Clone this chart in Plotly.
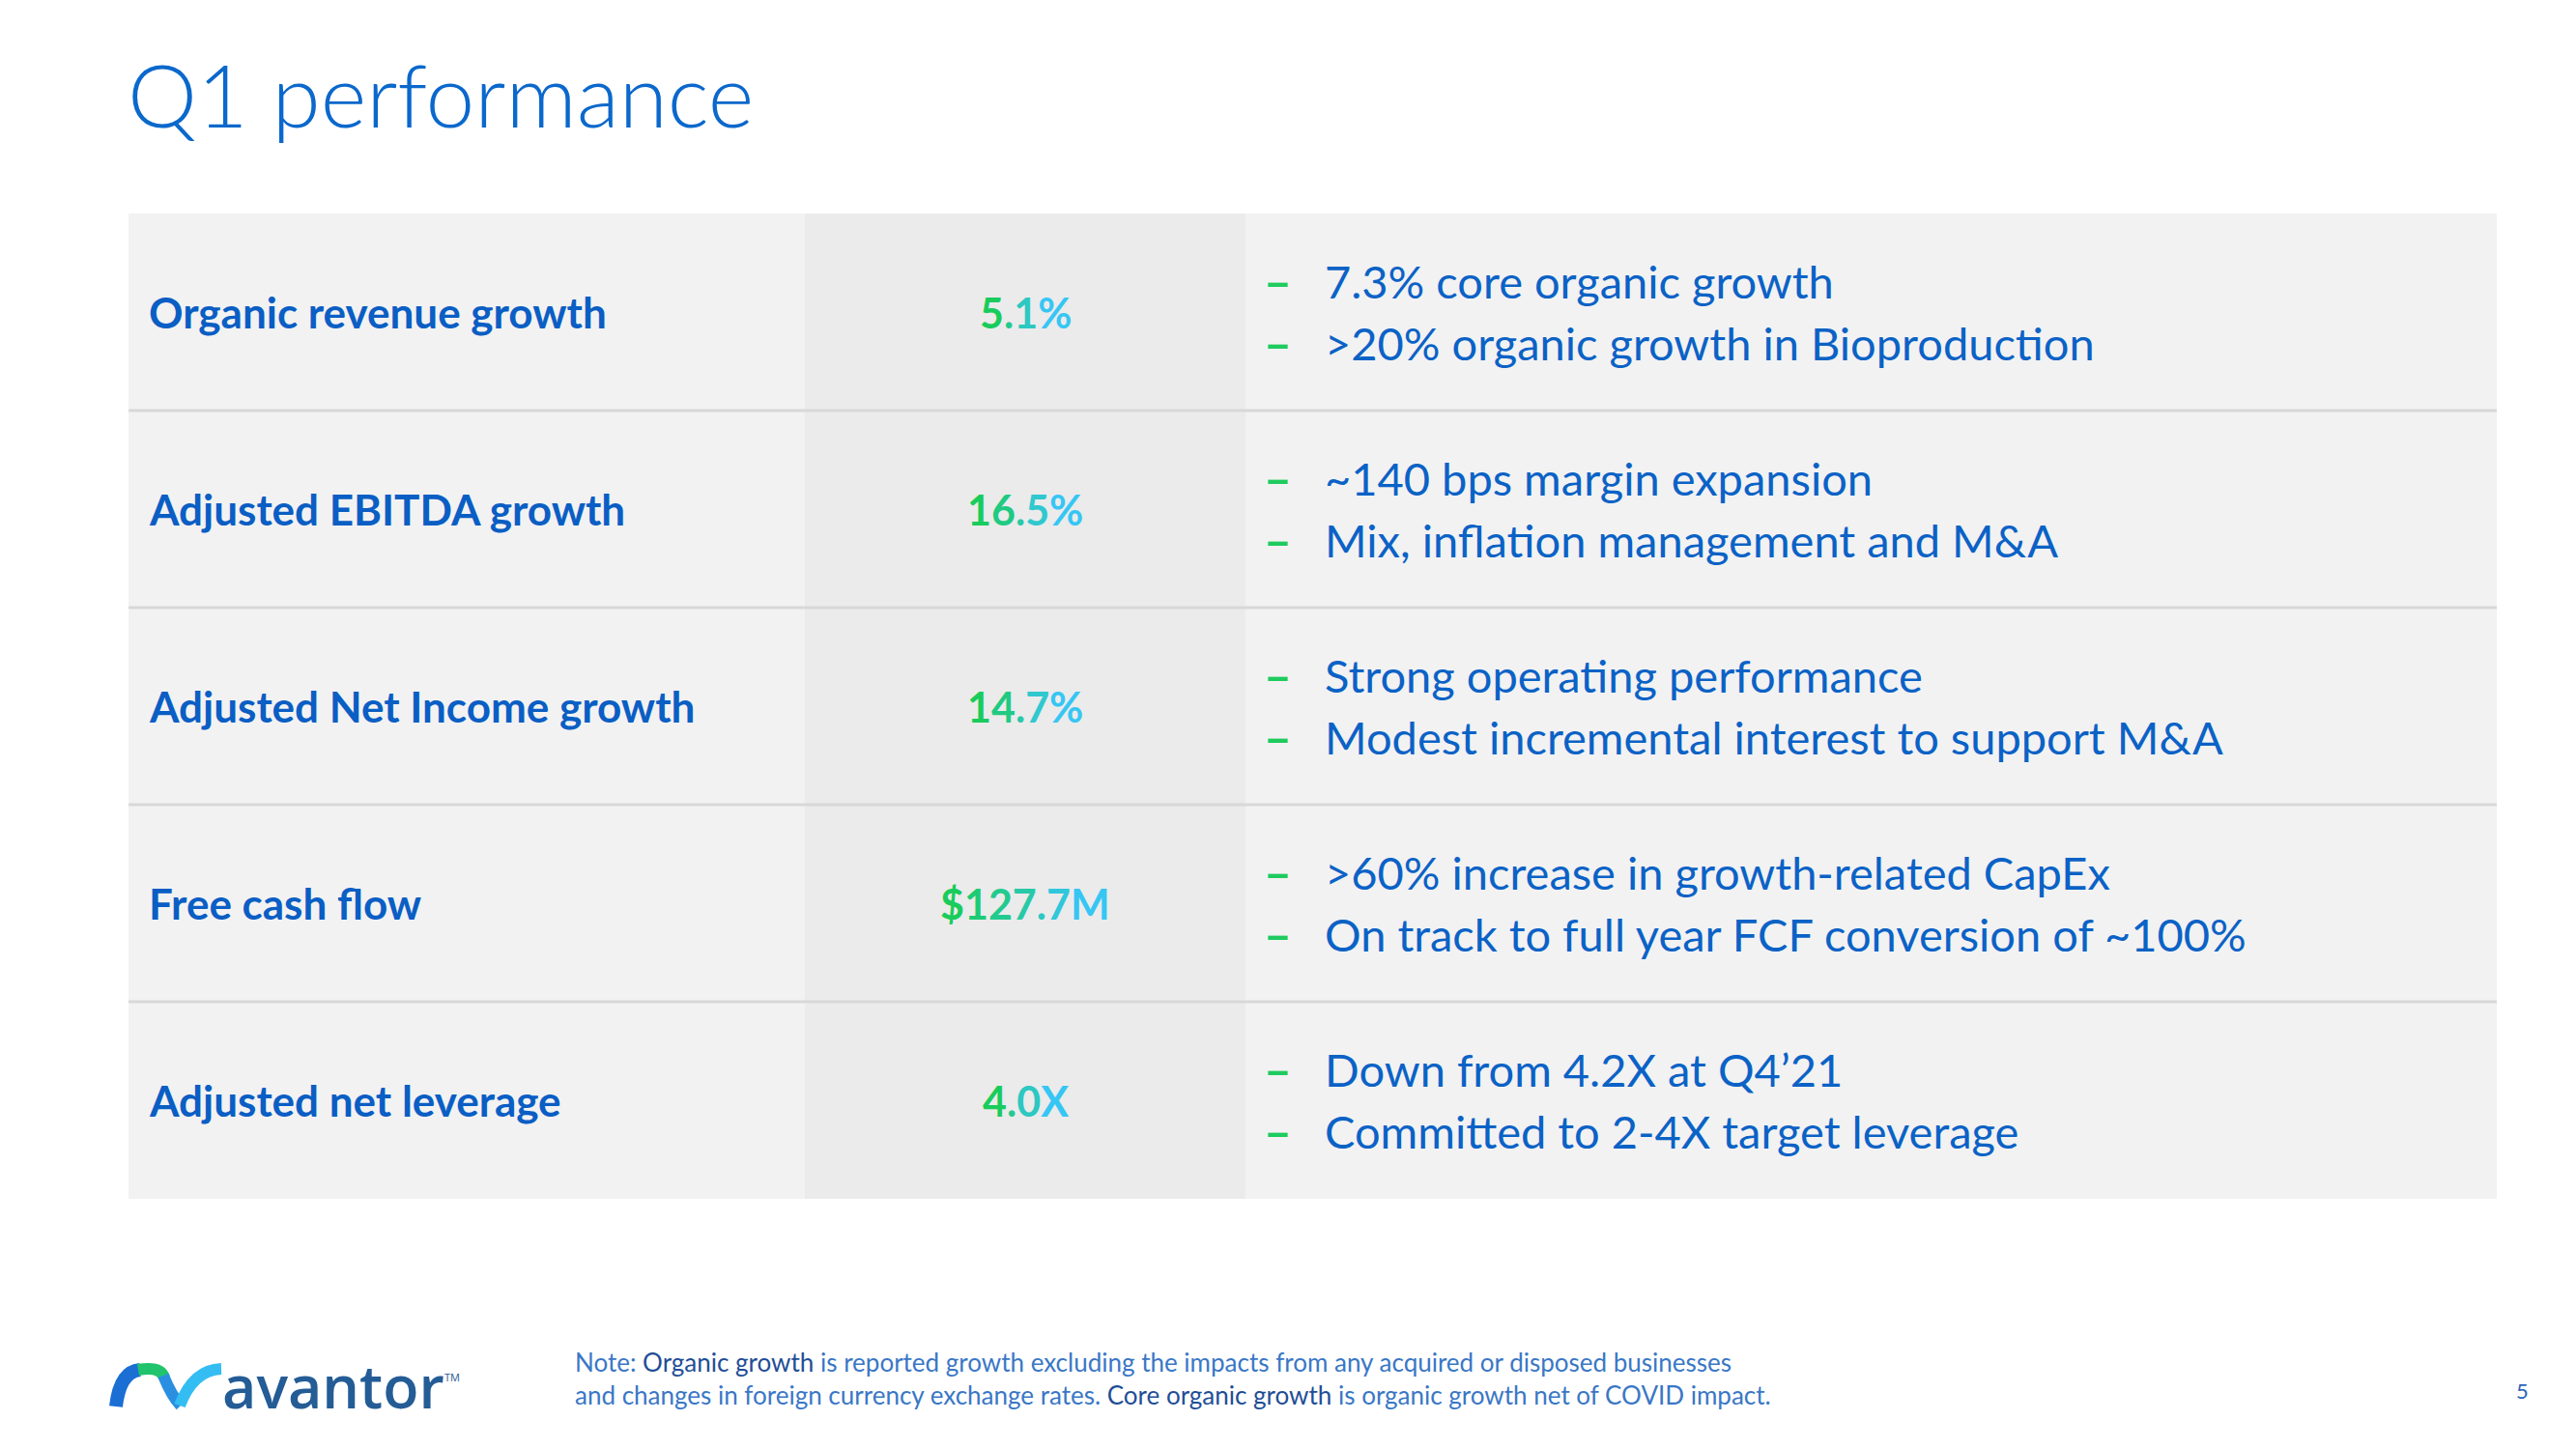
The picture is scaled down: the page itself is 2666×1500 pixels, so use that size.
import plotly.graph_objects as go

# ---------------- data ----------------
title_text = "Q1 performance"
metrics = ["Organic revenue growth", "Adjusted EBITDA growth", "Adjusted Net Income growth",
           "Free cash flow", "Adjusted net leverage"]
values = ["5.1%", "16.5%", "14.7%", "$127.7M", "4.0X"]
bullets_1 = ["7.3% core organic growth", "~140 bps margin expansion", "Strong operating performance",
             ">60% increase in growth-related CapEx", "Down from 4.2X at Q4\u201921"]
bullets_2 = [">20% organic growth in Bioproduction", "Mix, inflation management and M&A",
             "Modest incremental interest to support M&A",
             "On track to full year FCF conversion of ~100%", "Committed to 2-4X target leverage"]
note_line1 = ("Note: <span style='color:#1F4E96'>Organic growth</span> is reported growth excluding "
              "the impacts from any acquired or disposed businesses")
note_line2 = ("and changes in foreign currency exchange rates. <span style='color:#1F4E96'>Core organic "
              "growth</span> is organic growth net of COVID impact.")
page_number = "5"
column_shade = [0, 1, 0]  # background tone per column

# ---------------- layout constants ----------------
W, H = 2666, 1500
TBL_L, TBL_R, TBL_T, TBL_B = 133, 2584, 221, 1241
col_edges = [0, 700, 1156, TBL_R - TBL_L]
FONT = "Lato"
BLUE_TITLE = "#0B68CC"
BLUE_LABEL = "#0A5EC4"
BLUE_TEXT = "#0B62C6"
GREEN = "#1FCB5E"
GRAD_START = (25, 204, 92)
GRAD_END = (54, 198, 244)


def px(x):
    return x / W


def py(y):
    return 1 - y / H


def gradient_text(s):
    n = len(s)
    out = []
    for i, ch in enumerate(s):
        t = i / (n - 1) if n > 1 else 0
        c = tuple(round(a + (b - a) * t) for a, b in zip(GRAD_START, GRAD_END))
        out.append(f"<span style='color:rgb{c}'>{ch}</span>")
    return "".join(out)


n_rows = len(metrics)
fig = go.Figure()

fig.add_trace(go.Heatmap(
    z=[column_shade for _ in range(n_rows)],
    x=col_edges,
    y=list(range(n_rows)),
    colorscale=[[0, "#F2F2F2"], [1, "#EBEBEB"]],
    zmin=0, zmax=1, showscale=False, hoverinfo="skip",
))

shapes = []
for i in range(n_rows - 1):
    shapes.append(dict(type="line", xref="x", yref="y", x0=col_edges[0], x1=col_edges[-1],
                       y0=i + 0.5, y1=i + 0.5, line=dict(color="#D8D8D8", width=3), layer="above"))

annotations = []
val_x = (col_edges[1] + col_edges[2]) / 2
dash_x = col_edges[2] + 17
btxt_x = col_edges[2] + 80
for i in range(n_rows):
    annotations.append(dict(x=19, y=i, xref="x", yref="y", text=f"<b>{metrics[i]}</b>", showarrow=False,
                            xanchor="left", yanchor="middle",
                            font=dict(family=FONT, size=44, color=BLUE_LABEL)))
    annotations.append(dict(x=val_x, y=i, xref="x", yref="y", text=f"<b>{gradient_text(values[i])}</b>",
                            showarrow=False, xanchor="center", yanchor="middle",
                            font=dict(family=FONT, size=43, color=GREEN)))
    for txt, shift in ((bullets_1[i], 32), (bullets_2[i], -32)):
        annotations.append(dict(x=dash_x, y=i, xref="x", yref="y", text="<b>\u2013</b>", showarrow=False,
                                xanchor="left", yanchor="middle", yshift=shift,
                                font=dict(family=FONT, size=50, color=GREEN)))
        annotations.append(dict(x=btxt_x, y=i, xref="x", yref="y", text=txt, showarrow=False,
                                xanchor="left", yanchor="middle", yshift=shift,
                                font=dict(family=FONT, size=47, color=BLUE_TEXT)))

# title
annotations.append(dict(x=px(130), y=py(96), xref="paper", yref="paper", text=title_text, showarrow=False,
                        xanchor="left", yanchor="middle",
                        font=dict(family=FONT, size=91, color=BLUE_TITLE, weight=300)))
# footer note
annotations.append(dict(x=px(593), y=py(1427), xref="paper", yref="paper",
                        text=note_line1 + "<br>" + note_line2, showarrow=False, align="left",
                        xanchor="left", yanchor="middle",
                        font=dict(family=FONT, size=26, color="#3A77C6")))
# page number
annotations.append(dict(x=px(2610), y=py(1439), xref="paper", yref="paper", text=page_number,
                        showarrow=False, xanchor="center", yanchor="middle",
                        font=dict(family=FONT, size=22, color="#2A64B5")))
# logo wordmark
annotations.append(dict(x=px(228), y=py(1434), xref="paper", yref="paper", text="avantor",
                        showarrow=False, xanchor="left", yanchor="middle",
                        font=dict(family="Open Sans", size=61, color="#245C96", weight=600)))
annotations.append(dict(x=px(458), y=py(1425), xref="paper", yref="paper", text="TM",
                        showarrow=False, xanchor="left", yanchor="middle",
                        font=dict(family="Open Sans", size=11, color="#245C96")))


def logo_path(pts):
    (x0, y0), (cx, cy), (x1, y1) = pts
    return f"M {px(x0)} {py(y0)} Q {px(cx)} {py(cy)} {px(x1)} {py(y1)}"


logo_segments = [
    ([(120, 1456), (124, 1420), (145, 1418)], "#1A6ED4", 14),
    ([(143, 1418), (166, 1414), (170, 1426)], "#20C46C", 12),
    ([(169, 1424), (178, 1446), (187, 1455)], "#2A8FE0", 12),
    ([(186, 1455), (200, 1418), (229, 1417)], "#34BDF2", 12),
]
for pts, col, wd in logo_segments:
    shapes.append(dict(type="path", xref="paper", yref="paper", path=logo_path(pts),
                       line=dict(color=col, width=wd), layer="above"))

fig.update_layout(
    width=W, height=H, margin=dict(l=0, r=0, t=0, b=0),
    paper_bgcolor="white", plot_bgcolor="white",
    xaxis=dict(domain=[px(TBL_L), px(TBL_R)], range=[col_edges[0], col_edges[-1]], visible=False,
               fixedrange=True),
    yaxis=dict(domain=[py(TBL_B), py(TBL_T)], range=[n_rows - 0.5, -0.5], visible=False, fixedrange=True),
    shapes=shapes, annotations=annotations, showlegend=False,
)

fig.write_html("out.html", config={"displayModeBar": False},
               post_script="document.body.style.margin='0';document.body.style.overflow='hidden';")
